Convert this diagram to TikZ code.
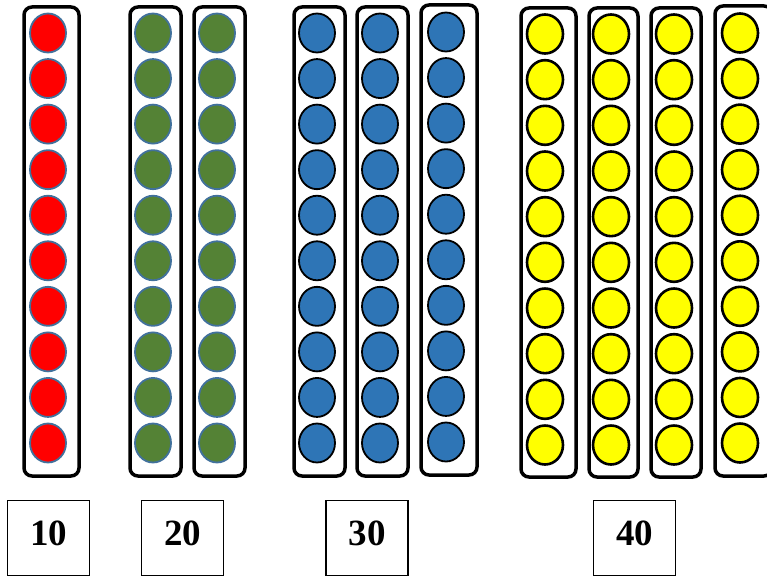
\documentclass[tikz,border=0pt]{standalone}
\usepackage{fontspec}
\setmainfont{Liberation Serif}
\definecolor{cred}{HTML}{FF0000}
\definecolor{cgreen}{HTML}{548235}
\definecolor{cblue}{HTML}{2E75B6}
\definecolor{cyellow}{HTML}{FFFF00}
\definecolor{cedge}{HTML}{41719C}
\tikzset{
  rack/.style={draw=black, line width=3.5pt, rounded corners=8pt, fill=white},
  bead/.style={line width=2pt},
  numbox/.style={draw=black, line width=1.8pt, minimum width=82pt, minimum height=75pt,
    font=\fontsize{37}{37}\selectfont\bfseries, inner sep=0pt, text depth=10pt}
}
\begin{document}
\begin{tikzpicture}[x=1pt,y=-1pt]
\useasboundingbox (0,0) rectangle (767,578);
% columns: left, right, top, bottom, cx, firsty, lasty, fill, edge, edgewidth
\foreach \l/\r/\t/\b/\cx/\fy/\ly/\fc/\ec/\ew in {
  24/79/7/476/48/33/443/cred/cedge/1.8,
  130/181/7/476/153/33/443/cgreen/cedge/1.8,
  194/245/7/476/217/33/443/cgreen/cedge/1.8,
  294/345/7/476/317/33/443/cblue/black/1.8,
  357/408/7/476/380/33/443/cblue/black/1.8,
  421/477/5/475/446/32/442/cblue/black/1.8,
  521/576/8/477/545/34/445/cyellow/black/2.6,
  589/638/8/477/611/34/445/cyellow/black/2.6,
  651/701/8/477/674/34/445/cyellow/black/2.6,
  715/772/6/476/740/33/443/cyellow/black/2.6}{
  \draw[rack] (\l,\t) rectangle (\r,\b);
  \foreach \k in {0,...,9}{
    \pgfmathsetmacro\yy{\fy+\k*(\ly-\fy)/9}
    \draw[bead, fill=\fc, draw=\ec, line width=\ew pt] (\cx,\yy) ellipse [x radius=18, y radius=19.5];
  }
}
\node[numbox] (n10) at (48.5,538) {10};
\node[numbox] (n20) at (182.5,538) {20};
\node[numbox] (n30) at (367,538) {30};
\node[numbox] (n40) at (634.5,538) {40};
\end{tikzpicture}
\end{document}
